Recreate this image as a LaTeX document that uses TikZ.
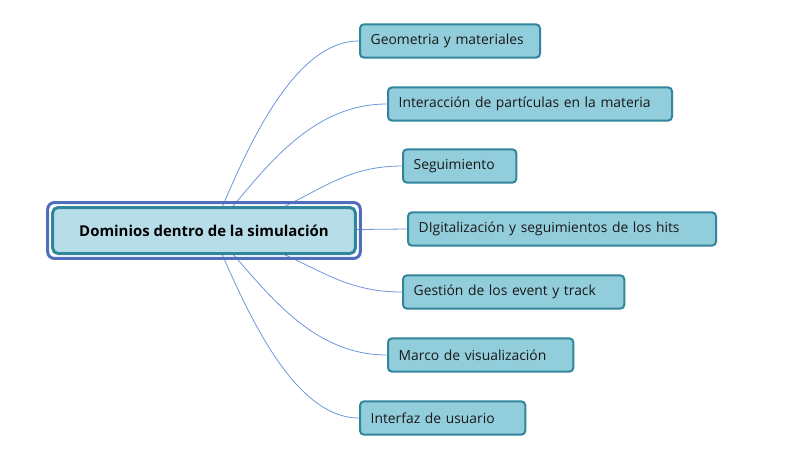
\documentclass[tikz,border=0pt]{standalone}
\usepackage{fontspec}
\setmainfont{Open Sans}
\usetikzlibrary{fit,backgrounds}

\definecolor{leaffill}{RGB}{146,205,220}
\definecolor{leafline}{RGB}{49,133,156}
\definecolor{rootfill}{RGB}{183,222,232}
\definecolor{frameblue}{RGB}{80,110,190}
\definecolor{linkblue}{RGB}{110,150,220}

\tikzset{
    leaf/.style={rectangle, rounded corners=3pt, draw=leafline, line width=1.5pt, fill=leaffill,
        anchor=west, align=left, inner xsep=8pt, minimum height=25pt, text=black!90,
        font=\fontsize{10.4}{12}\selectfont},
    rootbox/.style={rectangle, rounded corners=4pt, draw=leafline, line width=2.25pt, fill=rootfill,
        minimum width=227pt, minimum height=34.5pt, font=\fontsize{11.2}{13}\selectfont\bfseries},
    rootframe/.style={rectangle, rounded corners=5pt, draw=frameblue, line width=2.25pt, inner sep=2.6pt},
    link/.style={draw=linkblue, line width=0.6pt}
}

\begin{document}
\begin{tikzpicture}[x=0.75pt, y=-0.75pt]
    \useasboundingbox (0,0) rectangle (787,450);

    \node[rootbox] (root) at (204,230.5) {Dominios dentro de la simulaci\'on};
    \node[rootframe, fit=(root)] (frame) {};
    \coordinate (hub) at (212,231);

    %dominios
    \node[leaf, text width=119pt] (geo) at (359,41) {Geometria y materiales};
    \node[leaf, text width=197pt] (inter) at (387,104) {Interacci\'on de part\'iculas en la materia};
    \node[leaf, text width=69pt] (segui) at (402,166) {Seguimiento};
    \node[leaf, text width=215pt] (digit) at (407,229) {DIgitalizaci\'on y seguimientos de los hits};
    \node[leaf, text width=150pt] (gest) at (402,292) {Gesti\'on de los event y track};
    \node[leaf, text width=123pt] (marco) at (387,355) {Marco de visualizaci\'on};
    \node[leaf, text width=108pt] (ui) at (359,418) {Interfaz de usuario};

    %ramas
    \begin{scope}[on background layer]
        \draw[link] (hub) .. controls +(30,-71) and +(-69,0) .. (geo.west);
        \draw[link] (hub) .. controls +(46,-52) and +(-82,0) .. (inter.west);
        \draw[link] (hub) .. controls +(95,-20) and +(-75,0) .. (segui.west);
        \draw[link] (hub) -- (digit.west);
        \draw[link] (hub) .. controls +(95,20) and +(-75,0) .. (gest.west);
        \draw[link] (hub) .. controls +(48,50) and +(-82,0) .. (marco.west);
        \draw[link] (hub) .. controls +(30,69) and +(-69,0) .. (ui.west);
    \end{scope}
\end{tikzpicture}
\end{document}
